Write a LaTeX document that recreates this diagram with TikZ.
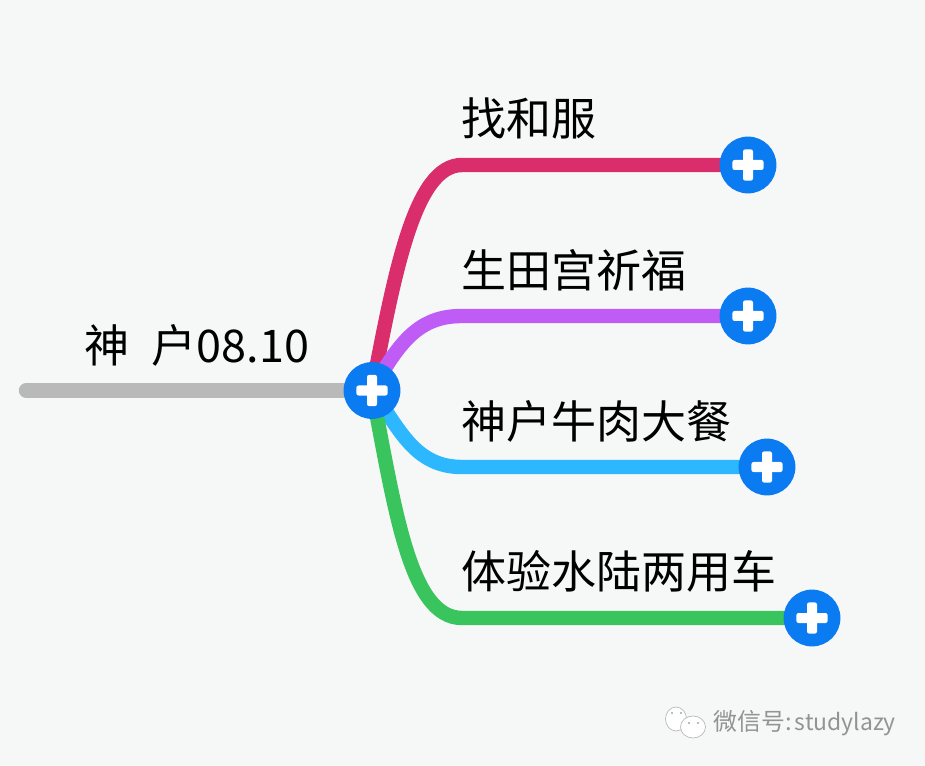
\documentclass[tikz,border=0pt]{standalone}
\usepackage{fontspec}
\setmainfont{Noto Sans CJK SC}
\usetikzlibrary{backgrounds}
\definecolor{pagebg}{HTML}{F6F8F7}
\definecolor{rootgray}{HTML}{B9B9B9}
\definecolor{plusblue}{HTML}{0A7BF0}
\definecolor{branchred}{HTML}{D92E6B}
\definecolor{branchpurple}{HTML}{BE5CF5}
\definecolor{branchblue}{HTML}{2DB7FF}
\definecolor{branchgreen}{HTML}{3AC45E}

\begin{document}
\begin{tikzpicture}[
    x=0.025cm, y=-0.025cm,
    % Node styles
    plus/.style={circle, fill=plusblue, inner sep=0pt, minimum size=1.42cm,
                 path picture={
                    \fill[white, rounded corners=1.5pt]
                        ([shift={(-0.39cm,-0.125cm)}]path picture bounding box.center) rectangle ([shift={(0.39cm,0.125cm)}]path picture bounding box.center);
                    \fill[white, rounded corners=1.5pt]
                        ([shift={(-0.125cm,-0.39cm)}]path picture bounding box.center) rectangle ([shift={(0.125cm,0.39cm)}]path picture bounding box.center);
                 }},
    topic/.style={anchor=west, inner sep=0pt, text=black, font=\fontsize{32pt}{36pt}\selectfont},
    marktext/.style={anchor=west, inner sep=0pt, text=gray!85, font=\fontsize{17pt}{20pt}\selectfont},
    branch/.style={line width=0.36cm, line cap=round},
    bubble/.style={draw=gray!55, fill=white, line width=0.5pt}
]

% Page
\useasboundingbox (0,0) rectangle (925,766);

% Hub and end points
\node[plus] (hub) at (372,390.5) {};
\node[plus] (plus1) at (748,165) {};
\node[plus] (plus2) at (748,316) {};
\node[plus] (plus3) at (767,467) {};
\node[plus] (plus4) at (812,618) {};
\coordinate (root) at (26,390.5);

% Texts
\node[topic] (rootlabel) at (84,345) {神\hspace{0.56cm}户08.10};
\node[topic] (label1) at (461,118) {找和服};
\node[topic] (label2) at (461,270) {生田宫祈福};
\node[topic] (label3) at (461,421) {神户牛肉大餐};
\node[topic] (label4) at (461,571) {体验水陆两用车};

% Branches
\begin{pgfonlayer}{background}
    \fill[pagebg] (0,0) rectangle (925,766);
    \draw[branch, rootgray] (root) -- (hub);
    \draw[branch, branchred] (hub.center) .. controls (395,270) and (415,165) .. (462,165) -- (plus1);
    \draw[branch, branchpurple] (hub.center) .. controls (400,340) and (420,316) .. (462,316) -- (plus2);
    \draw[branch, branchblue] (hub.center) .. controls (400,430) and (415,467) .. (462,467) -- (plus3);
    \draw[branch, branchgreen] (hub.center) .. controls (395,510) and (410,618) .. (462,618) -- (plus4);
\end{pgfonlayer}

% Watermark
\draw[bubble] (676,719) ellipse (10.5 and 12);
\draw[bubble] (693,727) ellipse (12.5 and 11);
\fill[gray!70] (672,713) circle (1.2) (681,713) circle (1.2) (689,723) circle (1.2) (698,723) circle (1.2);
\node[marktext] (marklabel) at (713,723) {微信号:\hspace{0.08cm}\fontsize{16.3pt}{20pt}\selectfont studylazy};

\end{tikzpicture}
\end{document}
